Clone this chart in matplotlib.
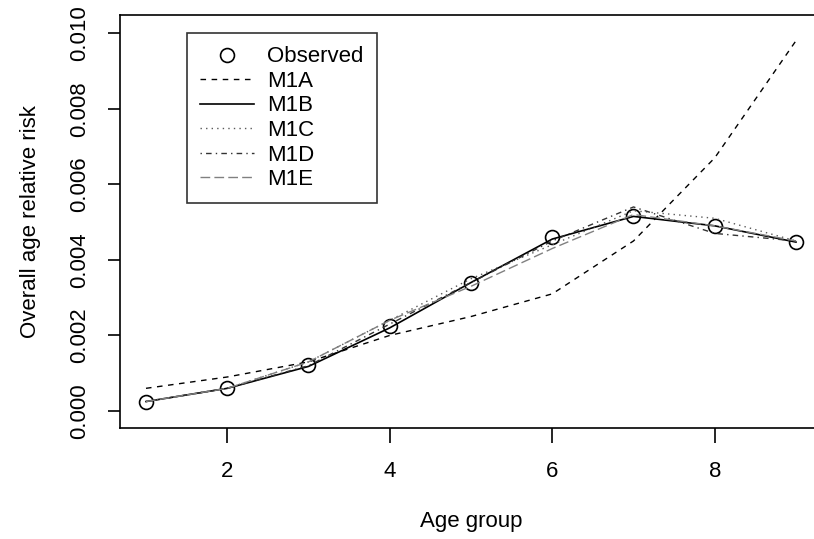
import matplotlib
matplotlib.use("Agg")
import matplotlib.pyplot as plt

plt.rcParams['font.family'] = ['Liberation Sans', 'DejaVu Sans']

age_group = [1, 2, 3, 4, 5, 6, 7, 8, 9]
observed = [0.00025, 0.0006, 0.00122, 0.00224, 0.0034, 0.0046, 0.00516, 0.0049, 0.00447]
m1a = [0.0006, 0.0009, 0.0013, 0.0020, 0.0025, 0.0031, 0.0045, 0.0067, 0.0098]
m1b = [0.00025, 0.0006, 0.00118, 0.0022, 0.0034, 0.00455, 0.00515, 0.0049, 0.00447]
m1c = [0.00025, 0.0006, 0.0013, 0.0024, 0.0035, 0.0044, 0.0053, 0.0051, 0.0045]
m1d = [0.00025, 0.0006, 0.0012, 0.0023, 0.0034, 0.0045, 0.0054, 0.0047, 0.0045]
m1e = [0.00025, 0.0006, 0.0013, 0.0024, 0.0033, 0.0043, 0.0052, 0.0049, 0.0045]

W, H = 814, 539
fig = plt.figure(figsize=(W / 100, H / 100), dpi=100)
ax = fig.add_axes([120 / W, 1 - 428 / H, (822 - 120) / W, (428 - 15) / H])

ax.plot(age_group, observed, 'o', mfc='none', mec='black', ms=10, mew=1.2, label='Observed')
ax.plot(age_group, m1a, color='black', lw=1, linestyle=(0, (4, 4)), label='M1A')
ax.plot(age_group, m1b, color='black', lw=1.2, linestyle='-', label='M1B')
ax.plot(age_group, m1c, color='0.35', lw=1, linestyle=(0, (1, 3)), label='M1C')
ax.plot(age_group, m1d, color='0.2', lw=1, linestyle=(0, (1, 3, 4, 3)), label='M1D')
ax.plot(age_group, m1e, color='0.5', lw=1, linestyle=(0, (7, 3)), label='M1E')

ax.set_xlim(0.68, 9.32)
ax.set_ylim(-0.00045, 0.01048)
ax.set_xticks([2, 4, 6, 8])
ax.set_yticks([0.0, 0.002, 0.004, 0.006, 0.008, 0.010])
ax.set_yticklabels(['0.000', '0.002', '0.004', '0.006', '0.008', '0.010'],
                   rotation=90, va='center')
ax.tick_params(axis='x', direction='out', length=11, width=1.2, labelsize=16, pad=13)
ax.tick_params(axis='y', direction='out', length=8.6, width=1.2, labelsize=16, pad=13)
for s in ax.spines.values():
    s.set_linewidth(1.2)

ax.set_xlabel('Age group', fontsize=16, labelpad=21)
ax.set_ylabel('Overall age relative risk', fontsize=16, labelpad=20)

leg = ax.legend(loc='upper left', bbox_to_anchor=(187 / W, 1 - 33 / H),
                bbox_transform=fig.transFigure, borderaxespad=0, fontsize=16,
                frameon=True, fancybox=False, edgecolor='black', handlelength=2.4,
                labelspacing=0.16, borderpad=0.6, handletextpad=0.6)
leg.get_frame().set_linewidth(1.2)

fig.savefig('out.png', dpi=100)
